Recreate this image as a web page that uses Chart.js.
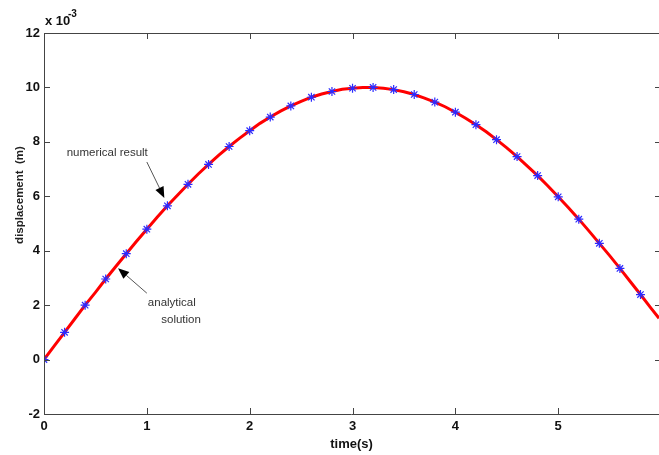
<!DOCTYPE html>
<html>
<head>
<meta charset="UTF-8">
<title>displacement</title>
<script src="https://cdn.jsdelivr.net/npm/chart.js"></script>
<style>
  html, body { margin: 0; padding: 0; background: #fff; overflow: hidden; }
  #wrap { width: 659px; height: 455px; }
</style>
</head>
<body>
<div id="wrap"><canvas id="chart"></canvas></div>
<script>
// analytical solution (red line), displacement in units of 1e-3 m
const lineTime = [0, 0.1, 0.2, 0.3, 0.4, 0.5, 0.6, 0.7, 0.8, 0.9, 1.0, 1.1, 1.2, 1.3, 1.4, 1.5, 1.6, 1.7, 1.8, 1.9,
  2.0, 2.1, 2.2, 2.3, 2.4, 2.5, 2.6, 2.7, 2.8, 2.9, 3.0, 3.1, 3.2, 3.3, 3.4, 3.5, 3.6, 3.7, 3.8, 3.9,
  4.0, 4.1, 4.2, 4.3, 4.4, 4.5, 4.6, 4.7, 4.8, 4.9, 5.0, 5.1, 5.2, 5.3, 5.4, 5.5, 5.6, 5.7, 5.8, 5.9, 5.98];
const lineDisp = [0, 0.5, 1.0, 1.5, 2.0, 2.47, 2.96, 3.43, 3.89, 4.35, 4.79, 5.23, 5.65, 6.05, 6.44, 6.82, 7.17, 7.51, 7.83, 8.13,
  8.41, 8.68, 8.91, 9.13, 9.32, 9.49, 9.64, 9.76, 9.85, 9.93, 9.97, 10.0, 10.0, 9.97, 9.92, 9.84, 9.74, 9.61, 9.46, 9.29,
  9.09, 8.87, 8.63, 8.37, 8.08, 7.78, 7.46, 7.11, 6.76, 6.38, 5.98, 5.58, 5.16, 4.72, 4.27, 3.82, 3.35, 2.87, 2.39, 1.90, 1.52];

// numerical result (blue stars)
const numTime = [0, 0.2, 0.4, 0.6, 0.8, 1.0, 1.2, 1.4, 1.6, 1.8, 2.0, 2.2, 2.4, 2.6, 2.8, 3.0, 3.2, 3.4, 3.6, 3.8,
  4.0, 4.2, 4.4, 4.6, 4.8, 5.0, 5.2, 5.4, 5.6, 5.8];
const numDisp = [0, 1.0, 2.0, 2.96, 3.89, 4.79, 5.65, 6.44, 7.17, 7.83, 8.41, 8.91, 9.32, 9.64, 9.85, 9.97, 10.0, 9.92, 9.74, 9.46,
  9.09, 8.63, 8.08, 7.46, 6.76, 5.98, 5.16, 4.27, 3.35, 2.39];

const xTicks = [0, 1, 2, 3, 4, 5];
const yTicks = [-2, 0, 2, 4, 6, 8, 10, 12];

const tickFont = "'Liberation Sans Narrow', 'Arial Narrow', 'Liberation Sans', sans-serif";
const textFont = "'Liberation Sans', Arial, sans-serif";

function pts(xs, ys) {
  return xs.map(function (x, i) { return { x: x, y: ys[i] }; });
}

function arrow(ctx, x1, y1, x2, y2) {
  const ang = Math.atan2(y2 - y1, x2 - x1);
  const len = 11, half = 4.5;
  const bx = x2 - len * Math.cos(ang), by = y2 - len * Math.sin(ang);
  ctx.strokeStyle = '#555';
  ctx.lineWidth = 1;
  ctx.beginPath();
  ctx.moveTo(x1, y1);
  ctx.lineTo(bx, by);
  ctx.stroke();
  ctx.fillStyle = '#000';
  ctx.beginPath();
  ctx.moveTo(x2, y2);
  ctx.lineTo(bx + half * Math.sin(ang), by - half * Math.cos(ang));
  ctx.lineTo(bx - half * Math.sin(ang), by + half * Math.cos(ang));
  ctx.closePath();
  ctx.fill();
}

// box, inward ticks, exponent label, y title, annotations
const decor = {
  id: 'decor',
  afterDraw(chart) {
    const ctx = chart.ctx, a = chart.chartArea;
    const sx = chart.scales.x, sy = chart.scales.y;
    ctx.save();
    ctx.strokeStyle = '#444';
    ctx.lineWidth = 1;
    ctx.beginPath();
    ctx.moveTo(a.left + 0.5, a.bottom + 0.5);
    ctx.lineTo(a.left + 0.5, a.top + 0.5);
    ctx.lineTo(a.right, a.top + 0.5);
    ctx.moveTo(a.left, a.bottom + 0.5);
    ctx.lineTo(a.right, a.bottom + 0.5);
    xTicks.forEach(function (v) {
      const px = Math.round(sx.getPixelForValue(v)) + 0.5;
      ctx.moveTo(px, a.bottom); ctx.lineTo(px, a.bottom - 6);
      ctx.moveTo(px, a.top); ctx.lineTo(px, a.top + 6);
    });
    yTicks.forEach(function (v) {
      const py = Math.round(sy.getPixelForValue(v)) + 0.5;
      ctx.moveTo(a.left, py); ctx.lineTo(a.left + 6, py);
      ctx.moveTo(a.right, py); ctx.lineTo(a.right - 4, py);
    });
    ctx.stroke();

    // x 10^-3
    ctx.fillStyle = '#111';
    ctx.textBaseline = 'middle';
    ctx.textAlign = 'left';
    ctx.font = 'bold 13px ' + tickFont;
    ctx.fillText('x 10', 45, 21);
    ctx.font = 'bold 10px ' + tickFont;
    ctx.fillText('-3', 68, 14);

    // y title
    ctx.save();
    ctx.translate(20, 195);
    ctx.rotate(-Math.PI / 2);
    ctx.textAlign = 'center';
    ctx.fillStyle = '#222';
    ctx.font = 'bold 11.5px ' + tickFont;
    ctx.fillText('displacement  (m)', 0, 0);
    ctx.restore();

    // annotations
    ctx.fillStyle = '#333';
    ctx.font = '11.5px ' + textFont;
    ctx.textAlign = 'left';
    ctx.fillText('numerical result', sx.getPixelForValue(0.22), sy.getPixelForValue(7.6));
    ctx.fillText('analytical', sx.getPixelForValue(1.01), sy.getPixelForValue(2.08));
    ctx.fillText('solution', sx.getPixelForValue(1.14), sy.getPixelForValue(1.45));
    arrow(ctx, sx.getPixelForValue(1.0), sy.getPixelForValue(7.26), sx.getPixelForValue(1.17), sy.getPixelForValue(5.94));
    arrow(ctx, sx.getPixelForValue(1.0), sy.getPixelForValue(2.44), sx.getPixelForValue(0.72), sy.getPixelForValue(3.36));
    ctx.restore();
  }
};

new Chart(document.getElementById('chart'), {
  type: 'scatter',
  data: {
    datasets: [{
      label: 'numerical result',
      data: pts(numTime, numDisp),
      showLine: false,
      pointStyle: 'star',
      pointRadius: 4.5,
      pointBorderWidth: 1.2,
      borderColor: '#2b2bff',
      backgroundColor: '#2b2bff',
      order: 0
    }, {
      label: 'analytical solution',
      data: pts(lineTime, lineDisp),
      showLine: true,
      pointRadius: 0,
      borderColor: '#ff0000',
      borderWidth: 3,
      tension: 0,
      order: 1
    }]
  },
  plugins: [decor],
  options: {
    responsive: true,
    maintainAspectRatio: false,
    animation: false,
    layout: { autoPadding: false, padding: { top: 33, right: 0, left: 0, bottom: 0 } },
    plugins: {
      legend: { display: false },
      tooltip: { enabled: false }
    },
    scales: {
      x: {
        type: 'linear',
        min: 0,
        max: 5.98,
        afterBuildTicks: function (s) { s.ticks = xTicks.map(function (v) { return { value: v }; }); },
        afterFit: function (s) { s.height = 41; },
        grid: { display: false, drawTicks: false },
        border: { display: false },
        ticks: {
          padding: 5,
          color: '#111',
          maxRotation: 0,
          font: { family: tickFont, size: 13, weight: 'bold' }
        },
        title: {
          display: true,
          text: 'time(s)',
          color: '#111',
          padding: { top: 0, bottom: 3 },
          font: { family: tickFont, size: 13, weight: 'bold' }
        }
      },
      y: {
        min: -2,
        max: 12,
        afterBuildTicks: function (s) { s.ticks = yTicks.map(function (v) { return { value: v }; }); },
        afterFit: function (s) { s.width = 44; },
        grid: { display: false, drawTicks: false },
        border: { display: false },
        ticks: {
          padding: 4,
          color: '#111',
          font: { family: tickFont, size: 13, weight: 'bold' }
        }
      }
    }
  }
});
</script>
</body>
</html>
